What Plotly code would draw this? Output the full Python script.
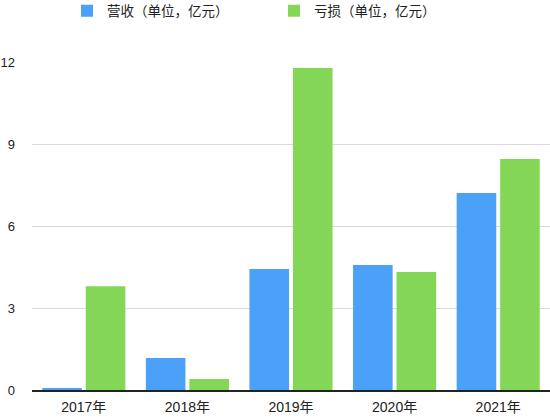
import plotly.graph_objects as go

years = ["2017年", "2018年", "2019年", "2020年", "2021年"]
revenue = [0.07, 1.17, 4.43, 4.57, 7.21]
loss = [3.8, 0.4, 11.78, 4.32, 8.45]
y_ticks = [0, 3, 6, 9, 12]

font_family = "Liberation Sans, Noto Sans CJK SC, sans-serif"

fig = go.Figure()
fig.add_trace(go.Bar(x=years, y=revenue, name="营收（单位，亿元）", marker=dict(color="#4aa1f7", line=dict(width=0))))
fig.add_trace(go.Bar(x=years, y=loss, name="亏损（单位，亿元）", marker=dict(color="#84d756", line=dict(width=0))))

fig.update_layout(
    width=550, height=418,
    margin=dict(l=32, r=0, t=62, b=28, autoexpand=False),
    plot_bgcolor="white", paper_bgcolor="white",
    font=dict(family=font_family, size=14, color="#222"),
    barmode="group", bargap=0.16, bargroupgap=0.09,
    showlegend=True,
    legend=dict(orientation="h", xref="container", yref="container",
                x=67/550, xanchor="left", y=1 - 11/418, yanchor="middle",
                entrywidth=162, entrywidthmode="pixels", font=dict(size=13.5, color="#222"),
                itemwidth=30),
)
fig.update_yaxes(range=[0, 12], tickvals=y_ticks, showgrid=True, gridcolor="#d9d9d9", gridwidth=1,
                 zeroline=False, showline=False, ticks="", ticklabelstandoff=16, automargin=False,
                 tickfont=dict(size=13))
fig.update_xaxes(showline=True, linecolor="#222", linewidth=1.5, ticks="", ticklabelstandoff=3,
                 automargin=False, tickfont=dict(size=14))

fig.write_html("out.html", config={"displayModeBar": False},
               post_script="document.body.style.margin='0';document.body.style.padding='0';")
